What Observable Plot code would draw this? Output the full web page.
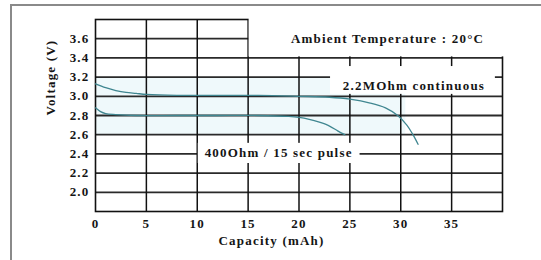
<!DOCTYPE html>
<html>
<head>
<meta charset="utf-8">
<script src="https://cdn.jsdelivr.net/npm/d3@7"></script>
<script src="https://cdn.jsdelivr.net/npm/@observablehq/plot@0.6"></script>
<style>
  html, body { margin: 0; padding: 0; background: #fff; }
  #wrap { position: relative; width: 541px; height: 260px; overflow: hidden; }
  #wrap::before { content: ""; position: absolute; left: 10px; top: 4px; right: -10px; bottom: -10px;
    border-left: 2px solid #8a8a8a; border-top: 2px solid #8a8a8a; pointer-events: none; }
  svg { display: block; }
  svg text { letter-spacing: 1.2px; }
</style>
</head>
<body>
<div id="wrap"></div>
<script>
// Tick values
const xTicks = [0, 5, 10, 15, 20, 25, 30, 35];
const yTicks = [2.0, 2.2, 2.4, 2.6, 2.8, 3.0, 3.2, 3.4, 3.6];

// 2.2 MOhm continuous discharge
const contCap = [0, 1, 2, 3, 4, 5, 8, 12, 16, 20, 23, 25, 27, 28.5, 29.7, 30.6, 31.2, 31.7];
const contV   = [3.13, 3.09, 3.06, 3.04, 3.03, 3.02, 3.01, 3.01, 3.01, 3.0, 2.99, 2.97, 2.93, 2.88, 2.80, 2.70, 2.60, 2.50];

// 400 Ohm / 15 sec pulse
const pulseCap = [0, 0.5, 1, 2, 4, 8, 12, 16, 19, 20, 21, 22, 23, 23.8, 24.5];
const pulseV   = [2.88, 2.84, 2.82, 2.81, 2.80, 2.80, 2.80, 2.80, 2.79, 2.78, 2.76, 2.73, 2.69, 2.64, 2.60];

const labels = {
  ambient: "Ambient Temperature : 20\u00B0C",
  cont: "2.2MOhm continuous",
  pulse: "400Ohm / 15 sec pulse",
  xLabel: "Capacity (mAh)",
  yLabel: "Voltage (V)"
};

const cont = contCap.map((c, i) => ({c, v: contV[i]}));
const pulse = pulseCap.map((c, i) => ({c, v: pulseV[i]}));

const font = "'Liberation Serif', 'DejaVu Serif', serif";
const gridX = xTicks.filter(d => d > 0);
const ink = "#151515";

const chart = Plot.plot({
  width: 541,
  height: 260,
  marginLeft: 95,
  marginRight: 39,
  marginTop: 19,
  marginBottom: 49,
  style: {fontFamily: font, fontWeight: "bold", fontSize: "13px", color: ink, background: "#fff"},
  x: {domain: [0, 40]},
  y: {domain: [1.8, 3.8]},
  marks: [
    // light shaded band
    Plot.rect([{x1: 0, x2: 30.5, y1: 2.6, y2: 3.2}], {x1: "x1", x2: "x2", y1: "y1", y2: "y2", fill: "#eff9fb"}),
    // grid
    Plot.ruleY(yTicks, {stroke: "#2a2a2a", strokeWidth: 1.8}),
    Plot.ruleX(gridX, {y1: 1.8, y2: 3.8, stroke: "#111", strokeWidth: 1.5}),
    Plot.frame({stroke: "#111", strokeWidth: 1.6}),
    // blank upper-right area (legend panel)
    Plot.rect([{x1: 15, x2: 40, y1: 3.4, y2: 3.8}], {x1: "x1", x2: "x2", y1: "y1", y2: "y2", fill: "#fff",
      insetLeft: 1, insetBottom: 1, insetRight: -3, insetTop: -3}),
    // label boxes
    Plot.rect([{x1: 23.1, x2: 39.3, y1: 3.02, y2: 3.31}], {x1: "x1", x2: "x2", y1: "y1", y2: "y2", fill: "#fff"}),
    Plot.rect([{x1: 10.1, x2: 26.0, y1: 2.30, y2: 2.51}], {x1: "x1", x2: "x2", y1: "y1", y2: "y2", fill: "#fff"}),
    // curves
    Plot.line(cont, {x: "c", y: "v", stroke: "#3f8690", strokeWidth: 1.3, curve: "catmull-rom"}),
    Plot.line(pulse, {x: "c", y: "v", stroke: "#3f8690", strokeWidth: 1.3, curve: "catmull-rom"}),
    // annotations
    Plot.text([labels.ambient], {x: 28.7, y: 3.6, text: d => d, fontSize: 13, fontWeight: "bold", fill: ink}),
    Plot.text([labels.cont], {x: 31.3, y: 3.11, text: d => d, fontSize: 13, fontWeight: "bold", fill: ink}),
    Plot.text([labels.pulse], {x: 18.0, y: 2.41, text: d => d, fontSize: 13, fontWeight: "bold", fill: ink}),
    // axes
    Plot.axisX(xTicks, {tickSize: 0, tickPadding: 7, fontSize: 13, fontWeight: "bold", label: null, fill: ink}),
    Plot.axisY(yTicks, {tickSize: 0, tickPadding: 6, fontSize: 13, fontWeight: "bold", label: null, tickFormat: d => d.toFixed(1), fill: ink}),
    Plot.text([labels.xLabel], {x: 17.3, frameAnchor: "bottom", dy: 33, text: d => d, fontSize: 13, fontWeight: "bold", fill: ink}),
    Plot.text([labels.yLabel], {frameAnchor: "left", dx: -45, rotate: -90, text: d => d, fontSize: 13, fontWeight: "bold", fill: ink})
  ]
});
document.getElementById("wrap").appendChild(chart);
</script>
</body>
</html>
